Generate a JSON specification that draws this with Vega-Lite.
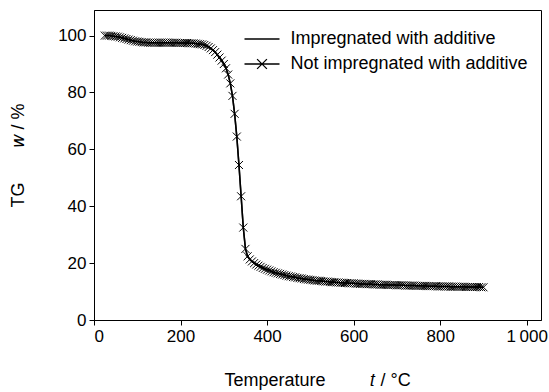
{
  "$schema": "https://vega.github.io/schema/vega-lite/v6.json",
  "width": 447,
  "height": 310,
  "autosize": {"type": "none"},
  "padding": {"left": 94, "top": 10, "right": 8, "bottom": 72},
  "background": "white",
  "config": {
    "view": {"stroke": "black", "strokeWidth": 1},
    "font": "Liberation Sans",
    "axis": {
      "domainColor": "black", "tickColor": "black", "labelColor": "black", "titleColor": "black",
      "grid": false, "labelFont": "Liberation Sans", "titleFont": "Liberation Sans",
      "labelFontSize": 17, "titleFontSize": 18, "titleFontWeight": "normal", "tickSize": 5, "labelPadding": 3
    },
    "legend": {
      "orient": "none", "legendX": 159, "legendY": 20, "padding": 0,
      "labelFont": "Liberation Sans", "labelFontSize": 18, "labelColor": "black",
      "symbolSize": 196, "symbolStrokeWidth": 1.3, "symbolStrokeColor": "black",
      "symbolFillColor": "transparent", "symbolOpacity": 1, "labelOffset": 19.5, "rowPadding": 7,
      "labelLimit": 400
    }
  },
  "datasets": {
    "tg": [
      {"t":25,"imp":100.0,"not":100.0},{"t":30,"imp":100.0,"not":100.0},{"t":35,"imp":100.0,"not":100.0},{"t":40,"imp":99.9,"not":99.9},
      {"t":45,"imp":99.8,"not":99.8},{"t":50,"imp":99.7,"not":99.7},{"t":55,"imp":99.6,"not":99.6},{"t":60,"imp":99.4,"not":99.4},
      {"t":65,"imp":99.2,"not":99.2},{"t":70,"imp":99.0,"not":99.0},{"t":75,"imp":98.8,"not":98.8},{"t":80,"imp":98.6,"not":98.6},
      {"t":85,"imp":98.4,"not":98.4},{"t":90,"imp":98.2,"not":98.2},{"t":95,"imp":98.0,"not":98.0},{"t":100,"imp":97.9,"not":97.9},
      {"t":105,"imp":97.8,"not":97.8},{"t":110,"imp":97.7,"not":97.7},{"t":115,"imp":97.6,"not":97.6},{"t":120,"imp":97.6,"not":97.6},
      {"t":125,"imp":97.5,"not":97.5},{"t":130,"imp":97.5,"not":97.5},{"t":135,"imp":97.5,"not":97.5},{"t":140,"imp":97.5,"not":97.5},
      {"t":145,"imp":97.5,"not":97.5},{"t":150,"imp":97.5,"not":97.5},{"t":155,"imp":97.5,"not":97.5},{"t":160,"imp":97.5,"not":97.5},
      {"t":165,"imp":97.5,"not":97.5},{"t":170,"imp":97.5,"not":97.5},{"t":175,"imp":97.5,"not":97.5},{"t":180,"imp":97.5,"not":97.5},
      {"t":185,"imp":97.5,"not":97.5},{"t":190,"imp":97.5,"not":97.5},{"t":195,"imp":97.4,"not":97.4},{"t":200,"imp":97.4,"not":97.4},
      {"t":205,"imp":97.4,"not":97.4},{"t":210,"imp":97.4,"not":97.4},{"t":215,"imp":97.4,"not":97.4},{"t":220,"imp":97.3,"not":97.3},
      {"t":225,"imp":97.3,"not":97.3},{"t":230,"imp":97.3,"not":97.3},{"t":235,"imp":97.2,"not":97.2},{"t":240,"imp":97.1,"not":97.1},
      {"t":245,"imp":97.0,"not":97.0},{"t":250,"imp":96.9,"not":96.9},{"t":255,"imp":96.7,"not":96.7},{"t":260,"imp":96.4,"not":96.4},
      {"t":265,"imp":96.0,"not":96.0},{"t":270,"imp":95.5,"not":95.5},{"t":275,"imp":94.9,"not":94.9},{"t":280,"imp":94.2,"not":94.2},
      {"t":285,"imp":93.3,"not":93.3},{"t":290,"imp":92.3,"not":92.3},{"t":295,"imp":91.2,"not":91.2},{"t":300,"imp":90.0,"not":90.0},
      {"t":305,"imp":88.5,"not":88.5},{"t":310,"imp":86.3,"not":86.3},{"t":315,"imp":83.2,"not":83.2},{"t":320,"imp":78.8,"not":78.8},
      {"t":325,"imp":72.5,"not":72.5},{"t":330,"imp":64.5,"not":64.5},{"t":335,"imp":54.5,"not":54.5},{"t":340,"imp":43.5,"not":43.5},
      {"t":345,"imp":32.5,"not":32.5},{"t":350,"imp":25.0,"not":25.0},{"t":355,"imp":22.4,"not":22.4},{"t":360,"imp":21.3,"not":21.3},
      {"t":365,"imp":20.6,"not":20.6},{"t":370,"imp":20.0,"not":20.0},{"t":375,"imp":19.5,"not":19.5},{"t":380,"imp":19.1,"not":19.1},
      {"t":385,"imp":18.7,"not":18.7},{"t":390,"imp":18.3,"not":18.3},{"t":395,"imp":18.0,"not":18.0},{"t":400,"imp":17.7,"not":17.7},
      {"t":405,"imp":17.4,"not":17.4},{"t":410,"imp":17.1,"not":17.1},{"t":415,"imp":16.8,"not":16.8},{"t":420,"imp":16.6,"not":16.6},
      {"t":425,"imp":16.4,"not":16.4},{"t":430,"imp":16.2,"not":16.2},{"t":435,"imp":16.0,"not":16.0},{"t":440,"imp":15.8,"not":15.8},
      {"t":445,"imp":15.6,"not":15.6},{"t":450,"imp":15.4,"not":15.4},{"t":455,"imp":15.3,"not":15.3},{"t":460,"imp":15.1,"not":15.1},
      {"t":465,"imp":15.0,"not":15.0},{"t":470,"imp":14.8,"not":14.8},{"t":475,"imp":14.7,"not":14.7},{"t":480,"imp":14.6,"not":14.6},
      {"t":485,"imp":14.4,"not":14.4},{"t":490,"imp":14.3,"not":14.3},{"t":495,"imp":14.2,"not":14.2},{"t":500,"imp":14.1,"not":14.1},
      {"t":505,"imp":14.0,"not":14.0},{"t":510,"imp":13.9,"not":13.9},{"t":515,"imp":13.8,"not":13.8},{"t":520,"imp":13.8,"not":13.8},
      {"t":525,"imp":13.7,"not":13.7},{"t":530,"imp":13.6,"not":13.6},{"t":535,"imp":13.5,"not":13.5},{"t":540,"imp":13.5,"not":13.5},
      {"t":545,"imp":13.4,"not":13.4},{"t":550,"imp":13.3,"not":13.3},{"t":555,"imp":13.3,"not":13.3},{"t":560,"imp":13.2,"not":13.2},
      {"t":565,"imp":13.2,"not":13.2},{"t":570,"imp":13.1,"not":13.1},{"t":575,"imp":13.1,"not":13.1},{"t":580,"imp":13.0,"not":13.0},
      {"t":585,"imp":13.0,"not":13.0},{"t":590,"imp":12.9,"not":12.9},{"t":595,"imp":12.9,"not":12.9},{"t":600,"imp":12.9,"not":12.9},
      {"t":605,"imp":12.8,"not":12.8},{"t":610,"imp":12.8,"not":12.8},{"t":615,"imp":12.7,"not":12.7},{"t":620,"imp":12.7,"not":12.7},
      {"t":625,"imp":12.7,"not":12.7},{"t":630,"imp":12.6,"not":12.6},{"t":635,"imp":12.6,"not":12.6},{"t":640,"imp":12.6,"not":12.6},
      {"t":645,"imp":12.5,"not":12.5},{"t":650,"imp":12.5,"not":12.5},{"t":655,"imp":12.5,"not":12.5},{"t":660,"imp":12.4,"not":12.4},
      {"t":665,"imp":12.4,"not":12.4},{"t":670,"imp":12.4,"not":12.4},{"t":675,"imp":12.4,"not":12.4},{"t":680,"imp":12.3,"not":12.3},
      {"t":685,"imp":12.3,"not":12.3},{"t":690,"imp":12.3,"not":12.3},{"t":695,"imp":12.3,"not":12.3},{"t":700,"imp":12.2,"not":12.2},
      {"t":705,"imp":12.2,"not":12.2},{"t":710,"imp":12.2,"not":12.2},{"t":715,"imp":12.2,"not":12.2},{"t":720,"imp":12.1,"not":12.1},
      {"t":725,"imp":12.1,"not":12.1},{"t":730,"imp":12.1,"not":12.1},{"t":735,"imp":12.1,"not":12.1},{"t":740,"imp":12.1,"not":12.1},
      {"t":745,"imp":12.0,"not":12.0},{"t":750,"imp":12.0,"not":12.0},{"t":755,"imp":12.0,"not":12.0},{"t":760,"imp":12.0,"not":12.0},
      {"t":765,"imp":12.0,"not":12.0},{"t":770,"imp":11.9,"not":11.9},{"t":775,"imp":11.9,"not":11.9},{"t":780,"imp":11.9,"not":11.9},
      {"t":785,"imp":11.9,"not":11.9},{"t":790,"imp":11.9,"not":11.9},{"t":795,"imp":11.8,"not":11.8},{"t":800,"imp":11.8,"not":11.8},
      {"t":805,"imp":11.8,"not":11.8},{"t":810,"imp":11.8,"not":11.8},{"t":815,"imp":11.8,"not":11.8},{"t":820,"imp":11.8,"not":11.8},
      {"t":825,"imp":11.7,"not":11.7},{"t":830,"imp":11.7,"not":11.7},{"t":835,"imp":11.7,"not":11.7},{"t":840,"imp":11.7,"not":11.7},
      {"t":845,"imp":11.7,"not":11.7},{"t":850,"imp":11.7,"not":11.7},{"t":855,"imp":11.7,"not":11.7},{"t":860,"imp":11.6,"not":11.6},
      {"t":865,"imp":11.6,"not":11.6},{"t":870,"imp":11.6,"not":11.6},{"t":875,"imp":11.6,"not":11.6},{"t":880,"imp":11.6,"not":11.6},
      {"t":885,"imp":11.6,"not":11.6},{"t":890,"imp":11.6,"not":11.6},{"t":895,"imp":11.5,"not":11.5},{"t":900,"imp":11.5,"not":11.5}
    ],
    "keys": [
      {"series": "Impregnated with additive"},
      {"series": "Not impregnated with additive"}
    ]
  },
  "layer": [
    {
      "data": {"name": "tg"},
      "mark": {"type": "line", "color": "#222", "strokeWidth": 1.5},
      "encoding": {
        "x": {"field": "t", "type": "quantitative", "scale": {"domain": [0, 1033], "nice": false, "zero": false},
              "axis": {"values": [0, 200, 400, 600, 800, 1000], "labelExpr": "datum.value == 1000 ? '1\u2009000' : datum.label",
                       "title": "Temperature\u00a0\u00a0\u00a0\u00a0\u00a0\u00a0\u00a0\u00a0\u00a0\ud835\udc61 / \u00b0C", "titleX": 223, "titleY": 60, "titleBaseline": "middle", "titleAlign": "center"}},
        "y": {"field": "imp", "type": "quantitative", "scale": {"domain": [0, 109], "nice": false},
              "axis": {"values": [0, 20, 40, 60, 80, 100], "title": "TG\u00a0\u00a0\u00a0\u00a0\u00a0\u00a0\u00a0\ud835\udc64 / %", "titleX": -76, "titleY": 145, "titleBaseline": "middle", "titleAlign": "center"}}
      }
    },
    {
      "data": {"name": "tg"},
      "mark": {"type": "line", "color": "black", "strokeWidth": 1.5},
      "encoding": {
        "x": {"field": "t", "type": "quantitative"},
        "y": {"field": "not", "type": "quantitative", "title": "TG\u00a0\u00a0\u00a0\u00a0\u00a0\u00a0\u00a0\ud835\udc64 / %"}
      }
    },
    {
      "data": {"name": "tg"},
      "mark": {"type": "point", "shape": "M-1,-1L1,1M-1,1L1,-1", "size": 64, "filled": false, "color": "black", "strokeWidth": 1, "opacity": 1},
      "encoding": {
        "x": {"field": "t", "type": "quantitative"},
        "y": {"field": "not", "type": "quantitative", "title": "TG\u00a0\u00a0\u00a0\u00a0\u00a0\u00a0\u00a0\ud835\udc64 / %"}
      }
    },
    {
      "data": {"name": "keys"},
      "mark": {"type": "point", "filled": false, "color": "black", "opacity": 0},
      "encoding": {
        "shape": {"field": "series", "type": "nominal",
                  "scale": {"domain": ["Impregnated with additive", "Not impregnated with additive"],
                            "range": ["M-2.5,0H2.5", "M-2.5,0H2.5M-0.7,-0.7L0.7,0.7M-0.7,0.7L0.7,-0.7"]},
                  "legend": {"title": null}}
      }
    }
  ]
}
